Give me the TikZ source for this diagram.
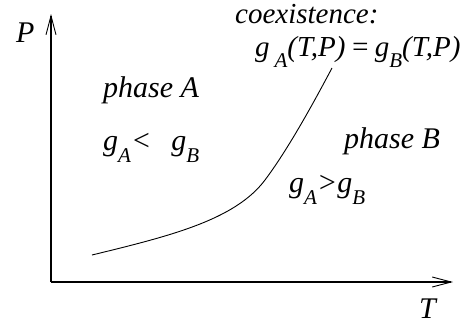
\documentclass[tikz,border=0pt]{standalone}
\usepackage{fontspec}
\setmainfont{Liberation Serif}
\usetikzlibrary{arrows.meta}
\newcommand{\mysub}[1]{\raisebox{-0.4em}{\fontsize{21}{24}\selectfont #1}}
\begin{document}
\begin{tikzpicture}[x=1pt,y=-1pt,
  lbl/.style={inner sep=0pt,anchor=base west,font=\fontsize{30}{34}\selectfont\itshape},
  axis/.style={line width=1.3pt,-{Straight Barb[length=19pt,width=10pt,line width=0.9pt]}},
  curve/.style={line width=0.9pt}]
\useasboundingbox (0,0) rectangle (464,325);
\coordinate (O) at (51,282);
\coordinate (Ptop) at (51,14);
\coordinate (Tend) at (453,282);
\draw[axis] (O) -- (Ptop);
\draw[axis] (O) -- (Tend);
\node[lbl] (P) at (16,42) {P};
\node[lbl] (T) at (419,318) {T};
\node[lbl] (pa) at (103,97) {phase A};
\node[lbl] (ga) at (103,150) {g\mysub{A}<\ \ \,g\mysub{B}};
\node[lbl] (pb) at (344,148) {phase B};
\node[lbl] (gb) at (289,192) {g\mysub{A}>g\mysub{B}};
\node[lbl,font=\fontsize{29}{32}\selectfont\itshape] (co) at (235,23) {coexistence:};
\node[lbl,font=\fontsize{29}{32}\selectfont\itshape] (eq) at (255,56) {g\,\mysub{A}(T,P)\,=\,g\mysub{B}(T,P)};
\draw[curve] (92,255) .. controls (170,236) and (235,220) .. (265,180)
  .. controls (289,148) and (315,100) .. (332,68);
\end{tikzpicture}
\end{document}
